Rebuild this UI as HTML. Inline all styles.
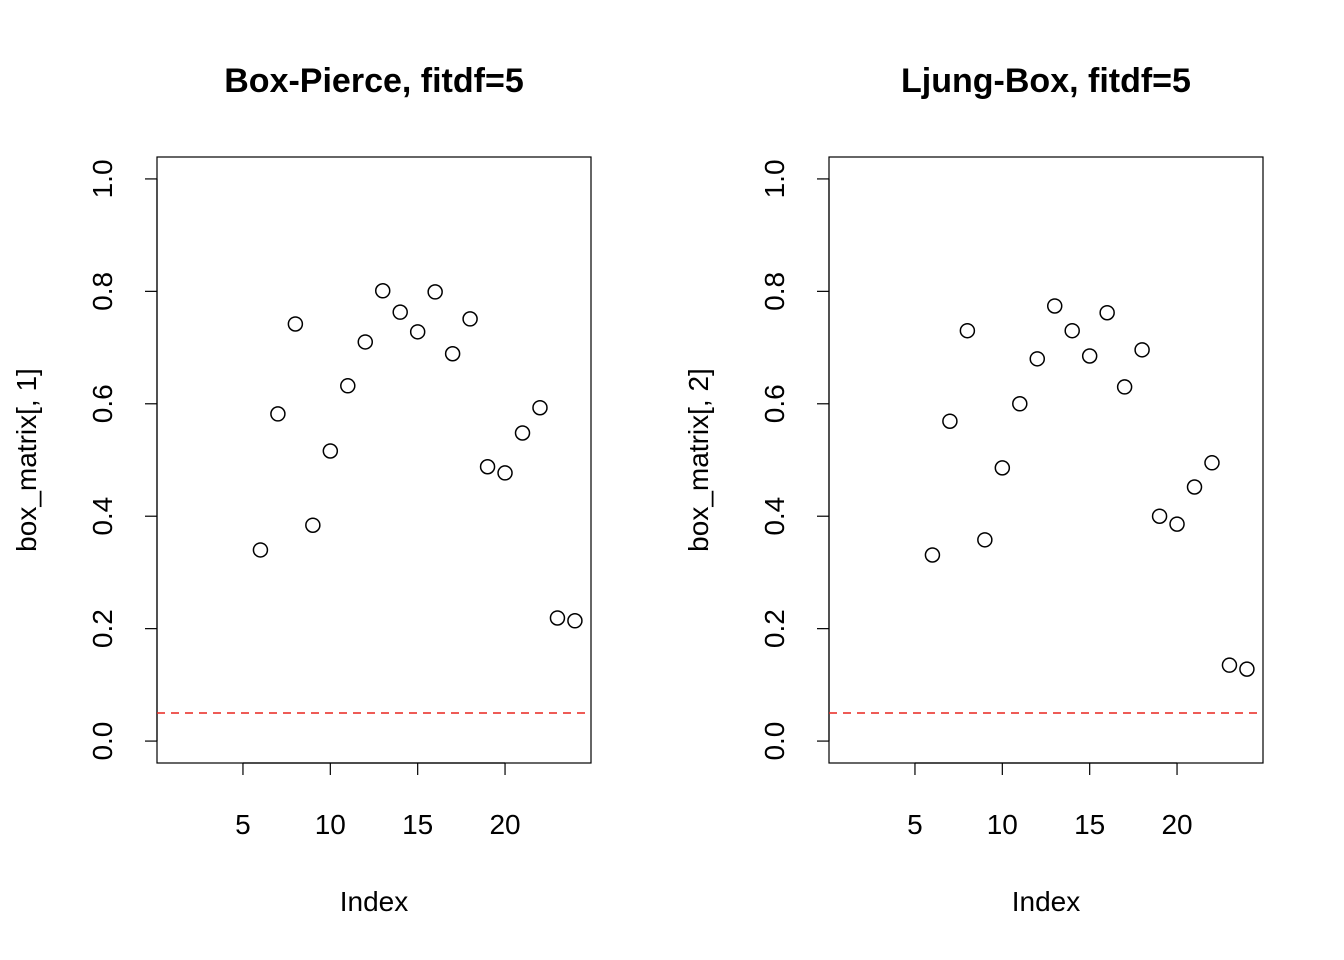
<!DOCTYPE html>
<html><head><meta charset="utf-8"><style>
html,body{margin:0;padding:0;background:#fff;}
svg{display:block;font-family:"Liberation Sans",Arial,sans-serif;}
</style></head><body>
<svg id="chart" width="1344" height="960" viewBox="0 0 1344 960"></svg>
<script>
const indices=[6,7,8,9,10,11,12,13,14,15,16,17,18,19,20,21,22,23,24];
const boxPierce=[0.340,0.582,0.742,0.384,0.516,0.632,0.710,0.801,0.763,0.728,0.799,0.689,0.751,0.488,0.477,0.548,0.593,0.219,0.214];
const ljungBox=[0.331,0.569,0.730,0.358,0.486,0.600,0.680,0.774,0.730,0.685,0.762,0.630,0.696,0.400,0.386,0.452,0.495,0.135,0.128];
const xTicks=[5,10,15,20];
const yTicks=[0,0.2,0.4,0.6,0.8,1.0];
const yTickLabels=["0.0","0.2","0.4","0.6","0.8","1.0"];
const threshold=0.05;
const titles=["Box-Pierce, fitdf=5","Ljung-Box, fitdf=5"];
const yLabels=["box_matrix[, 1]","box_matrix[, 2]"];
const series=[boxPierce,ljungBox];

const NS="http://www.w3.org/2000/svg";
const svgEl=document.getElementById('chart');
function mk(tag,attrs,parent){const e=document.createElementNS(NS,tag);for(const k in attrs)e.setAttribute(k,attrs[k]);(parent||svgEl).appendChild(e);return e;}

const xMin=0.08,xMax=24.92,yMin=-0.039,yMax=1.039;
const plotTop=157,plotBottom=763,plotWidth=434;
[157,829].forEach((left,p)=>{
  const g=mk('g',{});
  
  
  const sx=v=>left+(v-xMin)/(xMax-xMin)*plotWidth;
  const sy=v=>plotBottom-(v-yMin)/(yMax-yMin)*(plotBottom-plotTop);
  const frame=mk('rect',{x:left,y:plotTop,width:plotWidth,height:plotBottom-plotTop,fill:'none',stroke:'#000','stroke-width':1.2},g);
  
  
  const t=mk('text',{x:left+plotWidth/2,y:92,'text-anchor':'middle','font-size':34,'font-weight':'bold'},g);
  t.textContent=titles[p];
  
  
  const xa=mk('line',{x1:sx(xTicks[0]),x2:sx(xTicks[xTicks.length-1]),y1:plotBottom,y2:plotBottom,stroke:'#000','stroke-width':1.2},g);
  
  
  xTicks.forEach(v=>{
    mk('line',{x1:sx(v),x2:sx(v),y1:plotBottom,y2:plotBottom+12,stroke:'#000','stroke-width':1.2},g);
    const l=mk('text',{x:sx(v),y:834,'text-anchor':'middle','font-size':28},g);
    l.textContent=v;
    
    
  });
  const xl=mk('text',{x:left+plotWidth/2,y:911,'text-anchor':'middle','font-size':28},g);
  xl.textContent='Index';
  
  
  const ya=mk('line',{x1:left,x2:left,y1:sy(0),y2:sy(1),stroke:'#000','stroke-width':1.2},g);
  
  
  yTicks.forEach((v,i)=>{
    mk('line',{x1:left,x2:left-12,y1:sy(v),y2:sy(v),stroke:'#000','stroke-width':1.2},g);
    const l=mk('text',{x:0,y:0,'text-anchor':'middle','font-size':28,transform:`translate(${left-45},${sy(v)}) rotate(-90)`},g);
    l.textContent=yTickLabels[i];
    
    
  });
  const yl=mk('text',{x:0,y:0,'text-anchor':'middle','font-size':28,transform:`translate(${left-121},${(plotTop+plotBottom)/2}) rotate(-90)`},g);
  yl.textContent=yLabels[p];
  
  
  const th=mk('line',{x1:left,x2:left+plotWidth,y1:sy(threshold),y2:sy(threshold),stroke:'#e8251f','stroke-width':1.5,'stroke-dasharray':'8 6'},g);
  
  
  series[p].forEach((v,i)=>{
    const c=mk('circle',{cx:sx(indices[i]),cy:sy(v),r:7,fill:'none',stroke:'#000','stroke-width':1.5},g);
    
    
  });
});
</script>
</body></html>
